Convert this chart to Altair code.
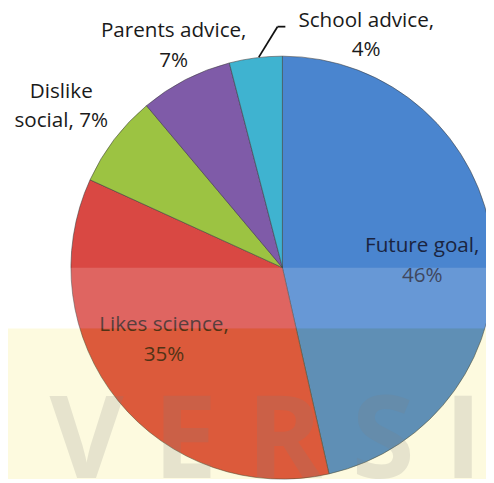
import math
import altair as alt
import pandas as pd

categories = ["Future goal", "Likes science", "Dislike social", "Parents advice", "School advice"]
values = [46, 35, 7, 7, 4]
labels = ["Future goal,\n46%", "Likes science,\n35%", "Dislike\nsocial, 7%", "Parents advice,\n7%", "School advice,\n4%"]
colors = ["#4a85cf", "#d94843", "#9cc342", "#7f5ba8", "#3fb3d0"]

df = pd.DataFrame({"category": categories, "value": values, "label": labels, "order": list(range(len(values)))})
total = sum(values)

CX, CY, R = 279, 260, 215
W, H = 486, 475
theta_scale = alt.Scale(domain=[0, total], range=[0, 2 * math.pi])

base = alt.Chart(df).transform_window(
    cum="sum(value)", sort=[alt.SortField("order")], frame=[None, 0]
).transform_calculate(mid="datum.cum - datum.value / 2")

arcs = alt.Chart(df).mark_arc(radius=R, stroke="#3c3c3c", strokeWidth=0.8, strokeOpacity=0.7).encode(
    theta=alt.Theta("value:Q", stack=True, scale=theta_scale),
    color=alt.Color("category:N", scale=alt.Scale(domain=categories, range=colors), legend=None),
    order=alt.Order("order:Q"),
    x=alt.value(CX), y=alt.value(CY),
)

FONT = "Open Sans"
FS = 21

def label_layer(cat, radius, dx, dy, color):
    return base.transform_filter(alt.datum.category == cat).mark_text(
        radius=radius, dx=dx, dy=dy, font=FONT, fontSize=FS, lineBreak="\n",
        lineHeight=30, align="center", baseline="middle", color=color,
    ).encode(
        theta=alt.Theta("mid:Q", scale=theta_scale),
        text="label:N",
        x=alt.value(CX), y=alt.value(CY),
    )

texts = [
    label_layer("Future goal", 140, 3, -6, "#1a2440"),
    label_layer("Likes science", 141, -11, -30, "#3a1a18"),
    label_layer("Dislike social", 275, -6, -12, "#1a1a1a"),
    label_layer("Parents advice", 250, 4, -18, "#1a1a1a"),
    label_layer("School advice", 235, 115, -18, "#1a1a1a"),
]

one = alt.Chart(pd.DataFrame({"k": [0]}))
leader1 = one.mark_rule(color="#111111", strokeWidth=1.8).encode(
    x=alt.value(255), y=alt.value(46), x2=alt.value(274), y2=alt.value(15))
leader2 = one.mark_rule(color="#111111", strokeWidth=1.8).encode(
    x=alt.value(274), y=alt.value(15), x2=alt.value(282), y2=alt.value(15))

band = one.mark_rect(color="#ffffff", opacity=0.16).encode(
    x=alt.value(0), x2=alt.value(W), y=alt.value(260), y2=alt.value(322))
tint = one.mark_rect(color="#ecd60a", opacity=0.13).encode(
    x=alt.value(0), x2=alt.value(W), y=alt.value(322), y2=alt.value(H))
wm = one.mark_text(text="V E R S I", font="Open Sans", fontWeight="bold", fontSize=116,
                   color="#808080", opacity=0.18, align="center", baseline="top").encode(
    x=alt.value(262), y=alt.value(382))

chart = alt.layer(arcs, *texts, leader1, leader2, band, tint, wm).properties(
    width=W, height=H, padding=0, background="#ffffff",
    autosize=alt.AutoSizeParams(type="none"),
).configure_view(stroke=None)

chart.save("out.html", embed_options={"renderer": "svg", "actions": False})
